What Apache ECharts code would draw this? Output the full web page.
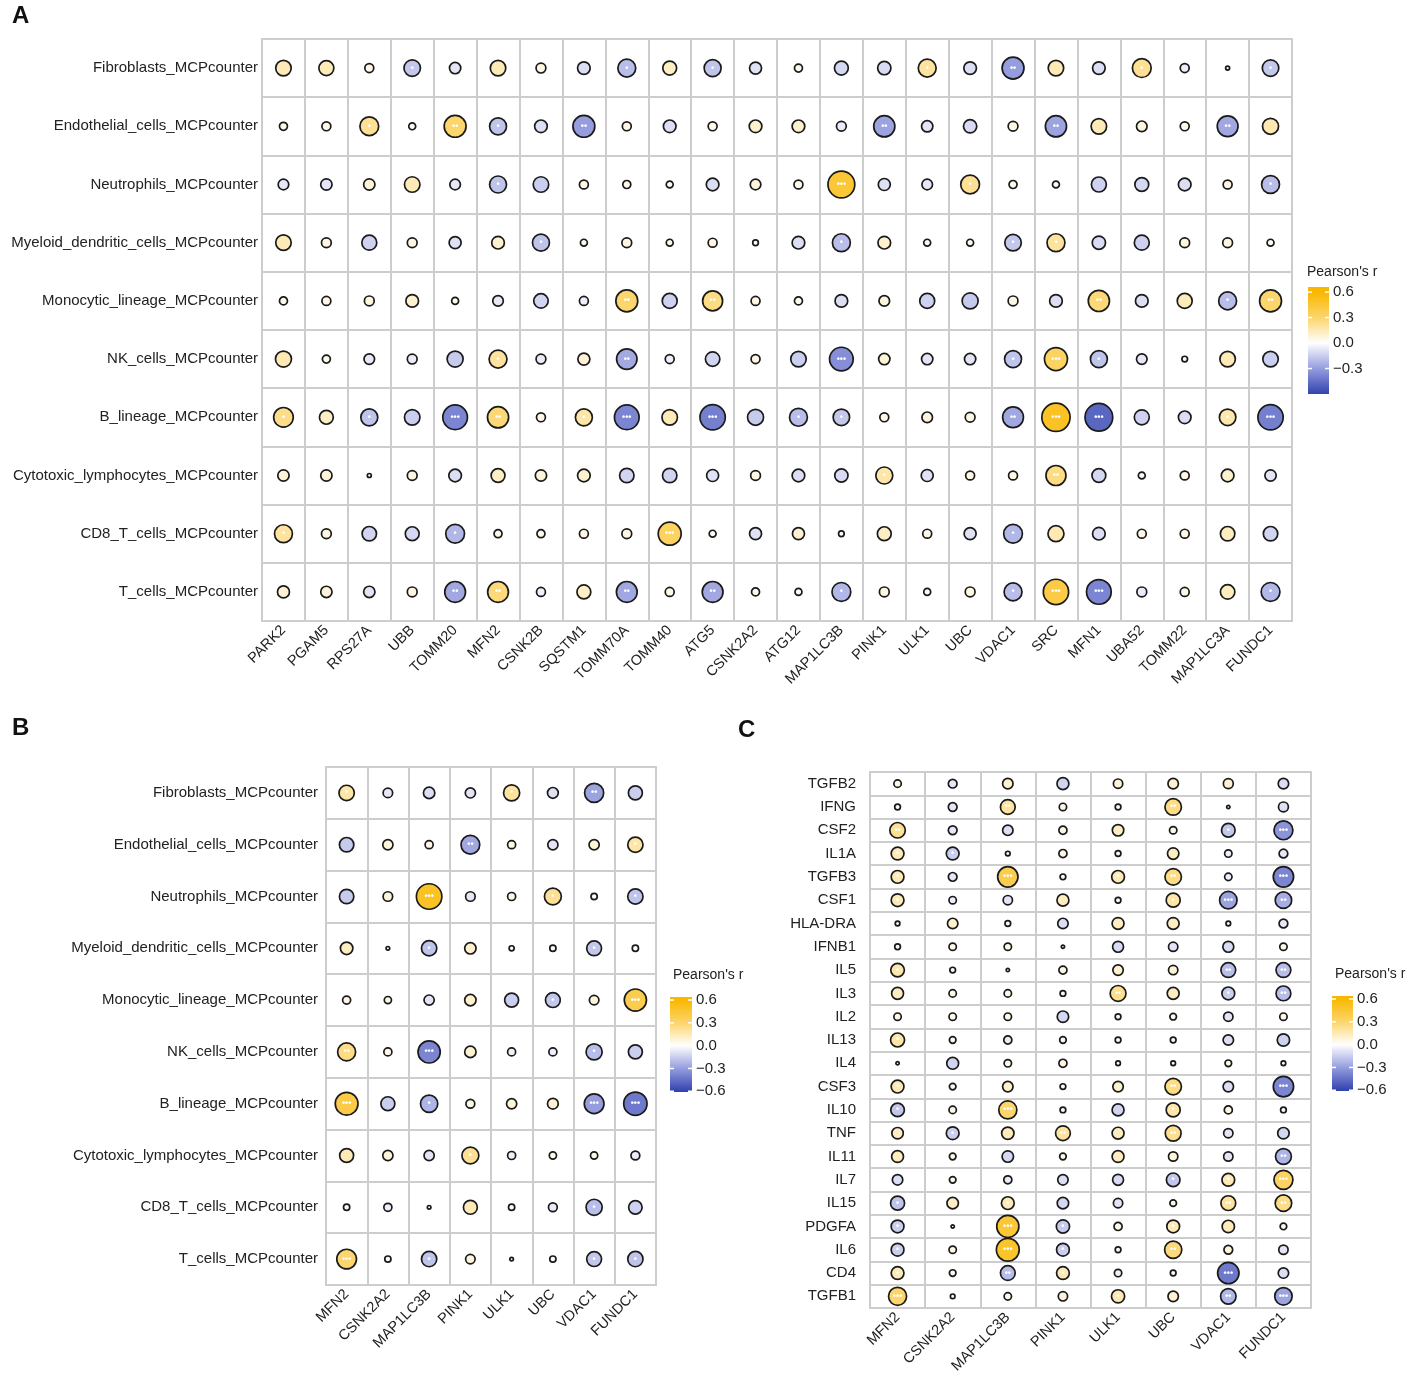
<!DOCTYPE html>
<html><head><meta charset="utf-8">
<script src="https://cdn.jsdelivr.net/npm/echarts@6/dist/echarts.min.js"></script>
<style>html,body{margin:0;padding:0;background:#fff;}#c{width:1417px;height:1381px;}</style>
</head><body><div id="c"></div>
<script>
// ---------------- DATA ----------------
const cellTypes = ['Fibroblasts_MCPcounter','Endothelial_cells_MCPcounter','Neutrophils_MCPcounter','Myeloid_dendritic_cells_MCPcounter','Monocytic_lineage_MCPcounter','NK_cells_MCPcounter','B_lineage_MCPcounter','Cytotoxic_lymphocytes_MCPcounter','CD8_T_cells_MCPcounter','T_cells_MCPcounter'];
const genesA = ['PARK2','PGAM5','RPS27A','UBB','TOMM20','MFN2','CSNK2B','SQSTM1','TOMM70A','TOMM40','ATG5','CSNK2A2','ATG12','MAP1LC3B','PINK1','ULK1','UBC','VDAC1','SRC','MFN1','UBA52','TOMM22','MAP1LC3A','FUNDC1'];
const genesBC = ['MFN2','CSNK2A2','MAP1LC3B','PINK1','ULK1','UBC','VDAC1','FUNDC1'];
const cytokines = ['TGFB2','IFNG','CSF2','IL1A','TGFB3','CSF1','HLA-DRA','IFNB1','IL5','IL3','IL2','IL13','IL4','CSF3','IL10','TNF','IL11','IL7','IL15','PDGFA','IL6','CD4','TGFB1'];
const legendTicksA = [-0.3, 0, 0.3, 0.6];
const legendTicksBC = [-0.6, -0.3, 0, 0.3, 0.6];

// Pearson's r, panel A (rows = cellTypes, cols = genesA)
const rA = [
 [0.15,0.14,0.05,-0.17,-0.08,0.15,0.06,-0.10,-0.20,0.12,-0.18,-0.09, 0.04,-0.12,-0.11,0.20,-0.10,-0.30,0.15,-0.10,0.22,-0.05,0.01,-0.17],
 [0.04,0.05,0.22,0.03,0.30,-0.18,-0.10,-0.30,0.05,-0.10,0.05,0.10, 0.10,-0.06,-0.28,-0.08,-0.11,0.06,-0.28,0.15,0.07,0.05,-0.27,0.16],
 [-0.07,-0.08,0.08,0.15,-0.07,-0.18,-0.15,0.05,0.04,0.03,-0.10,0.07, 0.05,0.45,-0.09,-0.07,0.22,0.04,0.03,-0.14,-0.12,-0.10,0.05,-0.20],
 [0.15,0.06,-0.14,0.06,-0.09,0.10,-0.18,0.03,0.06,0.03,0.05,0.02, -0.10,-0.20,0.10,0.03,0.03,-0.17,0.20,-0.11,-0.14,0.06,0.06,0.03],
 [0.04,0.05,0.06,0.10,0.03,-0.07,-0.13,-0.05,0.30,-0.14,0.25,0.05, 0.04,-0.10,0.07,-0.14,-0.16,0.06,-0.10,0.28,-0.10,0.14,-0.20,0.30],
 [0.16,0.04,-0.07,-0.06,-0.16,0.20,-0.06,0.09,-0.26,-0.05,-0.13,0.05, -0.15,-0.35,0.08,-0.08,-0.08,-0.18,0.33,-0.18,-0.07,0.02,0.15,-0.15],
 [0.24,0.12,-0.18,-0.15,-0.38,0.28,0.05,0.18,-0.38,0.15,-0.40,-0.16, -0.20,-0.17,0.05,0.07,0.06,-0.27,0.50,-0.48,-0.14,-0.10,0.17,-0.40],
 [0.08,0.08,0.01,0.06,-0.10,0.12,0.08,0.10,-0.13,-0.13,-0.09,0.06, -0.10,-0.11,0.18,-0.09,0.05,0.05,0.25,-0.12,0.03,0.05,0.10,-0.08],
 [0.20,0.06,-0.13,-0.12,-0.22,0.04,0.04,0.05,0.06,0.33,0.03,-0.09, 0.09,0.02,0.12,0.05,-0.09,-0.22,0.16,-0.10,0.05,0.05,0.13,-0.13],
 [0.09,0.08,-0.08,0.06,-0.27,0.27,-0.05,0.12,-0.27,0.05,-0.27,0.04, 0.03,-0.22,0.06,0.03,0.06,-0.20,0.40,-0.38,-0.06,0.05,0.13,-0.22]
];
// panel B (rows = cellTypes, cols = genesBC)
const rB = [
 [0.18,-0.07,-0.10,-0.08,0.20,-0.09,-0.28,-0.15],
 [-0.16,0.08,0.05,-0.27,0.05,-0.08,0.08,0.18],
 [-0.16,0.07,0.50,-0.07,0.05,0.22,0.03,-0.18],
 [0.12,0.01,-0.18,0.10,0.02,0.03,-0.17,0.03],
 [0.05,0.04,-0.08,0.10,-0.15,-0.17,0.07,0.38],
 [0.25,0.05,-0.38,0.10,-0.05,-0.05,-0.20,-0.15],
 [0.40,-0.15,-0.23,0.06,0.08,0.09,-0.30,-0.42],
 [0.15,0.08,-0.08,0.22,-0.05,0.04,0.04,-0.06],
 [0.03,-0.05,0.01,0.15,0.03,-0.06,-0.20,-0.14],
 [0.30,0.03,-0.18,0.07,0.01,0.03,-0.17,-0.18]
];
// panel C (rows = cytokines, cols = genesBC)
const rC = [
 [0.05,-0.07,0.10,-0.13,0.08,0.10,0.09,-0.10],
 [0.03,-0.07,0.20,0.05,0.03,0.25,0.01,-0.09],
 [0.22,-0.07,-0.10,0.06,0.12,0.05,-0.17,-0.33],
 [0.15,-0.15,0.02,0.06,0.03,0.12,-0.05,-0.07],
 [0.15,-0.07,0.38,0.03,0.15,0.25,-0.05,-0.38],
 [0.15,-0.05,-0.08,0.13,0.03,0.18,-0.28,-0.25],
 [0.02,0.10,0.03,-0.10,0.13,0.13,0.02,-0.07],
 [0.03,0.05,0.05,0.01,-0.11,-0.08,-0.11,0.05],
 [0.17,0.03,0.01,0.06,0.10,0.08,-0.20,-0.20],
 [0.13,0.05,0.05,0.03,0.23,0.13,-0.15,-0.20],
 [0.05,0.05,0.05,-0.12,0.03,0.04,-0.08,0.05],
 [0.18,0.04,-0.06,0.04,0.03,0.03,-0.10,-0.14],
 [0.01,-0.13,0.05,0.06,0.02,0.02,0.04,0.02],
 [0.15,0.04,0.10,0.03,0.10,0.25,-0.10,-0.38],
 [-0.17,0.05,0.30,0.03,-0.13,0.18,0.06,0.03],
 [0.12,-0.15,0.14,0.20,0.13,0.23,-0.08,-0.12],
 [0.13,0.04,-0.12,0.04,0.13,0.08,-0.08,-0.23],
 [-0.10,0.04,-0.06,-0.10,-0.11,-0.17,0.15,0.33],
 [-0.18,0.12,0.15,-0.12,-0.08,0.04,0.20,0.25],
 [-0.15,0.01,0.45,-0.16,0.06,0.15,0.14,0.04],
 [-0.15,0.05,0.48,-0.15,0.03,0.27,0.07,-0.08],
 [0.15,0.04,-0.20,0.15,-0.05,0.03,-0.42,-0.10],
 [0.30,0.02,0.05,0.08,0.16,0.10,-0.22,-0.28]
];

// ---------------- STYLE ----------------
const BLUE = '#3343ae', BLUE_MID = '#959dde', YELLOW = '#f9b800', YELLOW_MID = '#fcd56c', GRIDC = '#cdcdcd';
const FONT = "'Liberation Sans', Arial, sans-serif";
const toPts = m => { const out = []; m.forEach((row, i) => row.forEach((v, j) => out.push([j, i, v]))); return out; };
const starCount = (v, th) => { const a = Math.abs(v); return a >= th[2] ? 3 : a >= th[1] ? 2 : a >= th[0] ? 1 : 0; };

const grids = [
  {left: 262, top: 39, width: 1030, height: 582},
  {left: 326, top: 767, width: 330, height: 518},
  {left: 870, top: 772, width: 441, height: 536},
  {left: 1308, top: 287, width: 21, height: 107},
  {left: 670, top: 997, width: 22, height: 95},
  {left: 1332, top: 996, width: 21, height: 95}
].map(g => Object.assign({show: true, borderColor: GRIDC, borderWidth: 2, containLabel: false}, g));
grids[3].show = grids[4].show = grids[5].show = false;

function catX(data, gi) {
  return {type: 'category', gridIndex: gi, data: data, boundaryGap: true,
    axisLine: {show: false}, axisTick: {show: false},
    splitLine: {show: true, interval: 0, lineStyle: {color: GRIDC, width: 2}},
    axisLabel: {rotate: 45, interval: 0, margin: 7, fontFamily: FONT, fontSize: 14.5, color: '#222'}};
}
function catY(data, gi, margin, pad) {
  return {type: 'category', gridIndex: gi, data: data, inverse: true, boundaryGap: true,
    axisLine: {show: false}, axisTick: {show: false},
    splitLine: {show: true, interval: 0, lineStyle: {color: GRIDC, width: 2}},
    axisLabel: {interval: 0, margin: margin, padding: pad, fontFamily: FONT, fontSize: 15, color: '#222'}};
}
function legX(gi) { return {type: 'value', gridIndex: gi, min: 0, max: 1, show: false}; }
function legY(gi, lo, hi, ticks) {
  return {type: 'value', gridIndex: gi, min: lo, max: hi, position: 'right',
    axisLine: {show: false}, axisTick: {show: false}, splitLine: {show: false},
    axisLabel: {customValues: ticks, margin: 4, fontFamily: FONT, fontSize: 15, color: '#222',
      formatter: v => (v < -1e-9 ? '\u2212' + Math.abs(v).toFixed(1) : Math.abs(v).toFixed(1))}};
}
function scatter(gi, m, S, th) {
  return {type: 'scatter', xAxisIndex: gi, yAxisIndex: gi, data: toPts(m),
    symbolSize: v => S * Math.sqrt(Math.abs(v[2])),
    itemStyle: {borderColor: '#1a1a1a', borderWidth: 1.7, opacity: 1},
    label: {show: true, position: 'inside', color: '#ffffff', fontSize: 9, fontWeight: 'bold',
      formatter: p => '\u2022'.repeat(starCount(p.value[2], th))},
    emphasis: {disabled: true}, z: 3};
}
function colorbar(gi, lo, hi, ticks) {
  return {type: 'custom', xAxisIndex: gi, yAxisIndex: gi, data: [[0, lo]], silent: true,
    renderItem: (params, api) => {
      const p0 = api.coord([0, hi]), p1 = api.coord([1, lo]);
      const span = hi - lo, f = v => (hi - v) / span;
      const stops = [{offset: 0, color: YELLOW}];
      if (hi > 0.6) stops.push({offset: f(0.6), color: YELLOW});
      stops.push({offset: f(0.3), color: YELLOW_MID}, {offset: f(0), color: '#ffffff'}, {offset: f(-0.3), color: BLUE_MID});
      if (lo < -0.6) stops.push({offset: f(-0.6), color: BLUE});
      stops.push({offset: 1, color: BLUE});
      const children = [{type: 'rect', shape: {x: p0[0], y: p0[1], width: p1[0] - p0[0], height: p1[1] - p0[1]},
        style: {fill: new echarts.graphic.LinearGradient(0, 0, 0, 1, stops)}}];
      ticks.forEach(t => {
        const y = api.coord([0, t])[1];
        children.push({type: 'line', shape: {x1: p0[0], y1: y, x2: p0[0] + 4, y2: y}, style: {stroke: '#fff', lineWidth: 1.5}});
        children.push({type: 'line', shape: {x1: p1[0] - 4, y1: y, x2: p1[0], y2: y}, style: {stroke: '#fff', lineWidth: 1.5}});
      });
      return {type: 'group', children: children};
    }};
}

const option = {
  backgroundColor: '#ffffff',
  animation: false,
  grid: grids,
  xAxis: [catX(genesA, 0), catX(genesBC, 1), catX(genesBC, 2), legX(3), legX(4), legX(5)],
  yAxis: [catY(cellTypes, 0, 4, [0, 0, 9, 0]), catY(cellTypes, 1, 8, [0, 0, 4, 0]), catY(cytokines, 2, 14, [0, 0, 0, 0]),
          legY(3, -0.6, 0.66, legendTicksA), legY(4, -0.61, 0.64, legendTicksBC), legY(5, -0.61, 0.64, legendTicksBC)],
  visualMap: [{type: 'continuous', show: false, min: -0.6, max: 0.6, dimension: 2, seriesIndex: [0, 1, 2],
    inRange: {color: [BLUE, BLUE_MID, '#ffffff', YELLOW_MID, YELLOW]}}],
  series: [
    scatter(0, rA, 40, [0.17, 0.25, 0.33]),
    scatter(1, rB, 36, [0.17, 0.25, 0.30]),
    scatter(2, rC, 33, [0.15, 0.20, 0.28]),
    colorbar(3, -0.6, 0.66, legendTicksA),
    colorbar(4, -0.61, 0.64, legendTicksBC),
    colorbar(5, -0.61, 0.64, legendTicksBC)
  ],
  graphic: [
    {type: 'text', left: 12, top: 4, style: {text: 'A', font: "bold 24px 'Liberation Sans', Arial", fill: '#111'}},
    {type: 'text', left: 12, top: 716, style: {text: 'B', font: "bold 24px 'Liberation Sans', Arial", fill: '#111'}},
    {type: 'text', left: 738, top: 718, style: {text: 'C', font: "bold 24px 'Liberation Sans', Arial", fill: '#111'}},
    {type: 'text', left: 1307, top: 265, style: {text: "Pearson's r", font: "14px 'Liberation Sans', Arial", fill: '#222'}},
    {type: 'text', left: 673, top: 968, style: {text: "Pearson's r", font: "14px 'Liberation Sans', Arial", fill: '#222'}},
    {type: 'text', left: 1335, top: 967, style: {text: "Pearson's r", font: "14px 'Liberation Sans', Arial", fill: '#222'}}
  ]
};
const chart = echarts.init(document.getElementById('c'), null, {renderer: 'canvas'});
chart.setOption(option);
</script></body></html>
